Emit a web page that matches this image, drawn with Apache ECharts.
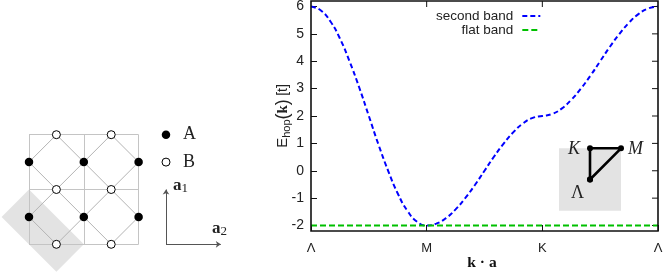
<!DOCTYPE html>
<html><head><meta charset="utf-8">
<style>html,body{margin:0;padding:0;background:#fff}#c{width:664px;height:272px}</style>
<script src="https://cdn.jsdelivr.net/npm/echarts@6/dist/echarts.min.js"></script>
</head><body><div id="c"></div>
<script>
// ---- band plot data (k-path position in segments, energy in t)
const pathTicks = ['Λ', 'M', 'K', 'Λ'];
const xTicks = [0, 1, 2, 3];
const yTicks = [-2, -1, 0, 1, 2, 3, 4, 5, 6];
const yMin = -2.2, yMax = 6.2;
const kPath = [0,0.083,0.167,0.25,0.333,0.417,0.5,0.583,0.667,0.75,0.833,0.917,1,
  1.083,1.167,1.25,1.333,1.417,1.5,1.583,1.667,1.75,1.833,1.917,2,
  2.083,2.167,2.25,2.333,2.417,2.5,2.583,2.667,2.75,2.833,2.917,3];
const secondBand = [6,5.86,5.46,4.83,4,3.04,2,0.96,0,-0.83,-1.46,-1.86,-2,
  -1.93,-1.73,-1.41,-1,-0.52,0,0.52,1,1.41,1.73,1.93,2,
  2.07,2.27,2.59,3,3.48,4,4.52,5,5.41,5.73,5.93,6];
const flatBand = [-2,-2,-2,-2];
const flatPath = [0,1,2,3];
// ---- lattice schematic (lattice units)
const sitesA = [[0,1],[2,1],[4,1],[0,3],[2,3],[4,3]];
const sitesB = [[1,0],[3,0],[1,2],[3,2],[1,4],[3,4]];
const cellLines = [[[0,0],[4,0]],[[0,2],[4,2]],[[0,4],[4,4]],[[0,0],[0,4]],[[2,0],[2,4]],[[4,0],[4,4]]];
const unitCell = [[-1,1],[0,2],[2,0],[1,-1]];
const keyA = [[5,4]];
const keyB = [[5,3]];
const latticeVectors = [[[5,0],[5,2]],[[5,0],[7,0]]];
// ---- Brillouin zone inset
const bzPath = [[0,0],[0,1],[1,1],[0,0]];

const bonds = [];
sitesA.forEach(a => sitesB.forEach(b => {
  if (Math.abs(a[0]-b[0]) === 1 && Math.abs(a[1]-b[1]) === 1) bonds.push([a,b]);
}));
const zip = (xs, ys) => xs.map((x,i) => [x, ys[i]]);
const sans = '"Liberation Sans", Arial, sans-serif';
const serif = '"Liberation Serif", "DejaVu Serif", serif';
const axisCol = '#111';
const seg = l => ({coords: l});

const chart = echarts.init(document.getElementById('c'), null, {renderer:'canvas'});
const hiddenX = (g,min,max) => ({type:'value',gridIndex:g,min,max,show:false});
const hiddenY = hiddenX;
const subA = {fontFamily:serif,fontWeight:'bold',fontSize:17,fill:'#222'};
const subI = {fontFamily:serif,fontSize:13,verticalAlign:'bottom',padding:[6,0,0,0],fill:'#222'};

chart.setOption({
  animation:false,
  backgroundColor:'#fff',
  grid:[
    {left:311,top:1,width:347,height:230,outerBoundsMode:'none',show:true,borderColor:axisCol,borderWidth:1.6,backgroundColor:'transparent',z:6},
    {left:1.6,top:107.3,width:232.9,height:164.4,outerBoundsMode:'none'},
    {left:559,top:148.3,width:62,height:62.4,show:true,backgroundColor:'#e3e3e3',borderWidth:0,z:1,outerBoundsMode:'none'}
  ],
  xAxis:[
    {type:'value',gridIndex:0,min:0,max:3,interval:1,position:'bottom',
      axisLine:{show:false,onZero:false},
      axisTick:{show:true,inside:true,length:6,lineStyle:{color:axisCol,width:1}},
      axisLabel:{show:true,margin:11,color:'#222',fontFamily:sans,fontSize:13,formatter:v=>pathTicks[v]},
      splitLine:{show:false},
      name:'k · a',nameLocation:'middle',nameGap:24,nameMoveOverlap:false,
      nameTextStyle:{fontFamily:serif,fontWeight:'bold',fontSize:15.5,color:'#111',padding:[0,5,0,0]}},
    hiddenX(1,-1,7.5),
    hiddenX(2,-1,1)
  ],
  yAxis:[
    {type:'value',gridIndex:0,min:yMin,max:yMax,position:'left',
      axisLine:{show:false,onZero:false},
      axisTick:{show:true,inside:true,length:6,customValues:yTicks,lineStyle:{color:axisCol,width:1}},
      axisLabel:{show:true,margin:7,color:'#222',fontFamily:sans,fontSize:14,customValues:yTicks,formatter:v=>String(v)},
      splitLine:{show:false},
      name:'{e|E}{s|hop}{q|(}{k|k}{q|)} {p|[t]}',nameLocation:'middle',nameGap:19,nameMoveOverlap:false,
      nameTextStyle:{rich:{
        e:{fontFamily:sans,fontSize:15,color:'#222'},
        s:{fontFamily:sans,fontSize:11,color:'#222',verticalAlign:'bottom',padding:[6,0,0,0]},
        q:{fontFamily:sans,fontSize:18,color:'#222'},
        p:{fontFamily:sans,fontSize:14,color:'#222'},
        k:{fontFamily:serif,fontWeight:'bold',fontSize:15,color:'#222'}
      }}},
    hiddenY(1,-1,5),
    hiddenY(2,-1,1)
  ],
  legend:{
    orient:'vertical',left:431,top:4,align:'right',itemGap:0,itemWidth:18,itemHeight:14,
    itemStyle:{opacity:0},
    textStyle:{fontFamily:sans,fontSize:13.5,color:'#222',width:82,align:'right',padding:[0,4,0,0]},
    data:['second band','flat band']
  },
  graphic:[
    {type:'text',left:183,top:125,style:{text:'A',font:'18px '+serif,fill:'#222'}},
    {type:'text',left:183,top:153,style:{text:'B',font:'18px '+serif,fill:'#222'}},
    {type:'text',left:173,top:177,style:{text:'{b|a}{s|1}',rich:{b:subA,s:subI}}},
    {type:'text',left:212,top:220,style:{text:'{b|a}{s|2}',rich:{b:subA,s:subI}}},
    {type:'text',left:568,top:140,z:10,style:{text:'K',font:'italic 18px '+serif,fill:'#222'}},
    {type:'text',left:628,top:140,z:10,style:{text:'M',font:'italic 18px '+serif,fill:'#222'}},
    {type:'text',left:571,top:184,z:10,style:{text:'Λ',font:'18px '+serif,fill:'#222'}}
  ],
  series:[
    {name:'second band',type:'line',xAxisIndex:0,yAxisIndex:0,data:zip(kPath,secondBand),smooth:true,showSymbol:false,symbol:'none',
      lineStyle:{color:'#0000ff',width:2,type:[5,3]},itemStyle:{color:'#0000ff'},z:3},
    {name:'flat band',type:'line',xAxisIndex:0,yAxisIndex:0,data:zip(flatPath,flatBand),showSymbol:false,symbol:'none',
      lineStyle:{color:'#00c000',width:2,type:[6,3]},itemStyle:{color:'#00c000'},z:4},
    // mirrored inward ticks on the top and right frame edges
    {type:'scatter',xAxisIndex:0,yAxisIndex:0,clip:false,silent:true,symbol:'rect',symbolSize:[1,6],symbolOffset:[0,3],
      data:xTicks.slice(1,3).map(x=>[x,yMax]),itemStyle:{color:axisCol,opacity:1},z:2},
    {type:'scatter',xAxisIndex:0,yAxisIndex:0,clip:false,silent:true,symbol:'rect',symbolSize:[6,1],symbolOffset:[-3,0],
      data:yTicks.map(y=>[3,y]),itemStyle:{color:axisCol,opacity:1},z:2},
    {type:'custom',xAxisIndex:1,yAxisIndex:1,data:[0],z:1,clip:false,
      renderItem:(p,api)=>({type:'polygon',shape:{points:unitCell.map(c=>api.coord(c))},style:{fill:'#e3e3e3'}})},
    {type:'lines',coordinateSystem:'cartesian2d',xAxisIndex:1,yAxisIndex:1,z:2,symbol:'none',
      lineStyle:{color:'#c4c4c4',width:1,opacity:1,curveness:0},data:cellLines.map(seg)},
    {type:'lines',coordinateSystem:'cartesian2d',xAxisIndex:1,yAxisIndex:1,z:2,symbol:'none',
      lineStyle:{color:'#b4b4b4',width:1,opacity:1,curveness:0},data:bonds.map(seg)},
    {type:'lines',coordinateSystem:'cartesian2d',xAxisIndex:1,yAxisIndex:1,z:2,symbol:['none','arrow'],symbolSize:5,
      lineStyle:{color:'#555',width:1,opacity:1,curveness:0},data:latticeVectors.map(seg)},
    {type:'scatter',xAxisIndex:1,yAxisIndex:1,z:5,symbol:'circle',symbolSize:8.5,data:sitesA.concat(keyA),
      itemStyle:{color:'#000',opacity:1}},
    {type:'scatter',xAxisIndex:1,yAxisIndex:1,z:5,symbol:'circle',symbolSize:8,data:sitesB.concat(keyB),
      itemStyle:{color:'#fff',borderColor:'#000',borderWidth:1,opacity:1}},
    {type:'line',xAxisIndex:2,yAxisIndex:2,data:bzPath,z:5,clip:false,symbol:'circle',symbolSize:6,showSymbol:true,
      lineStyle:{color:'#000',width:2.6},itemStyle:{color:'#000'}}
  ]
});
</script></body></html>
